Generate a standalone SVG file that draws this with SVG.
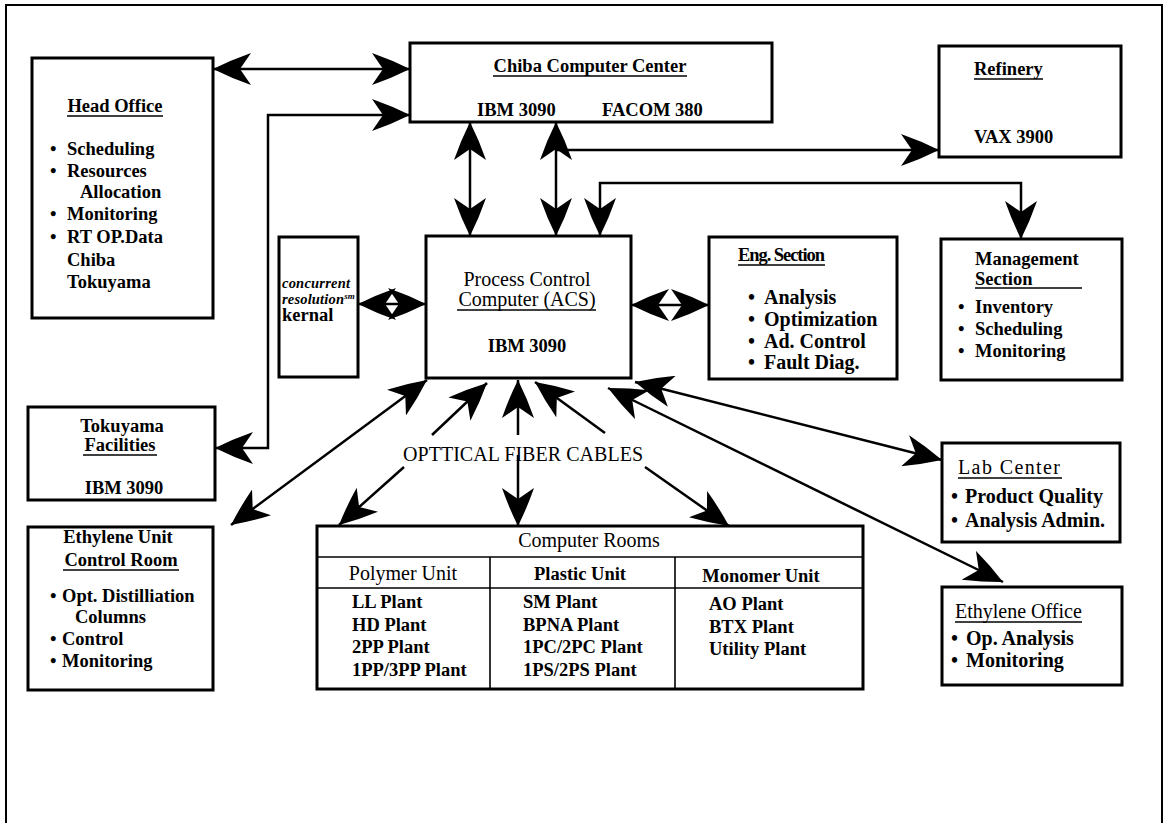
<svg xmlns="http://www.w3.org/2000/svg" width="1167" height="823" viewBox="0 0 1167 823">
<style>
.box{fill:#fff;stroke:#000;stroke-width:3}
.ln{fill:none;stroke:#000;stroke-width:2.5}
.t{font-family:"Liberation Serif","Times New Roman",serif;font-weight:bold;font-size:18.5px;fill:#000}
.r{font-weight:normal;font-size:20px}
.b20{font-size:20px}
.c{text-anchor:middle}
.ul{stroke:#000;stroke-width:1.6}
.it{font-size:14.5px;font-style:italic}
</style>
<defs>
<marker id="ah" viewBox="0 0 38 32" refX="38" refY="16" markerWidth="38" markerHeight="32" markerUnits="userSpaceOnUse" orient="auto-start-reverse">
<path d="M38,16 Q20,7 0,0 L11,16 L0,32 Q20,25 38,16 Z" fill="#000"/>
</marker>
</defs>
<rect width="1167" height="823" fill="#fff"/>
<path d="M6,823 V5 H1162 V823" fill="none" stroke="#000" stroke-width="2"/>

<g id="connectors">
<path class="ln" d="M213,69 H410" marker-start="url(#ah)" marker-end="url(#ah)"/>
<path class="ln" d="M215,448 H268 V115 H410" marker-start="url(#ah)" marker-end="url(#ah)"/>
<path class="ln" d="M470,122 V236" marker-start="url(#ah)" marker-end="url(#ah)"/>
<path class="ln" d="M556,122 V236" marker-start="url(#ah)" marker-end="url(#ah)"/>
<path class="ln" d="M556,150 H939" marker-end="url(#ah)"/>
<path class="ln" d="M600,236 V183 H1021 V239" marker-start="url(#ah)" marker-end="url(#ah)"/>
<path class="ln" d="M358,304 H426" marker-start="url(#ah)" marker-end="url(#ah)"/>
<path class="ln" d="M631,305 H709" marker-start="url(#ah)" marker-end="url(#ah)"/>
<path class="ln" d="M427,380 L231,525" marker-start="url(#ah)" marker-end="url(#ah)"/>
<path class="ln" d="M432,435 L487,383" marker-end="url(#ah)"/>
<path class="ln" d="M404,467 L339,525" marker-end="url(#ah)"/>
<path class="ln" d="M518,435 V380" marker-end="url(#ah)"/>
<path class="ln" d="M518,455 V526" marker-end="url(#ah)"/>
<path class="ln" d="M605,433 L535,382" marker-end="url(#ah)"/>
<path class="ln" d="M645,467 L729,526" marker-end="url(#ah)"/>
<path class="ln" d="M635,382 L942,460" marker-start="url(#ah)" marker-end="url(#ah)"/>
<path class="ln" d="M608,388 L1003,582" marker-start="url(#ah)" marker-end="url(#ah)"/>
</g>

<g id="head-office">
<rect class="box" x="32" y="58" width="181" height="260"/>
<text class="t c" x="115" y="112">Head Office</text>
<line class="ul" x1="67" y1="116" x2="163" y2="116"/>
<text class="t" y="155"><tspan x="50">•</tspan><tspan x="67">Scheduling</tspan></text>
<text class="t" y="177"><tspan x="50">•</tspan><tspan x="67">Resources</tspan></text>
<text class="t" x="80" y="198">Allocation</text>
<text class="t" y="220"><tspan x="50">•</tspan><tspan x="67">Monitoring</tspan></text>
<text class="t" y="243"><tspan x="50">•</tspan><tspan x="67">RT OP.Data</tspan></text>
<text class="t" x="67" y="266">Chiba</text>
<text class="t" x="67" y="288">Tokuyama</text>
</g>

<g id="chiba">
<rect class="box" x="410" y="43" width="362" height="79"/>
<text class="t c" x="590" y="72">Chiba Computer Center</text>
<line class="ul" x1="493" y1="76" x2="687" y2="76"/>
<text class="t" x="477" y="116">IBM 3090</text>
<text class="t" x="602" y="116">FACOM 380</text>
</g>

<g id="refinery">
<rect class="box" x="939" y="46" width="182" height="111"/>
<text class="t" x="974" y="75">Refinery</text>
<line class="ul" x1="974" y1="79" x2="1043" y2="79"/>
<text class="t" x="974" y="143">VAX 3900</text>
</g>

<g id="kernel">
<rect class="box" x="279" y="237" width="79" height="140"/>
<text class="t it" x="282" y="288" textLength="68">concurrent</text>
<text class="t it" x="282" y="304"><tspan textLength="62">resolution</tspan><tspan font-size="9" dy="-5">sm</tspan></text>
<text class="t" x="282" y="321" font-size="14">kernal</text>
</g>

<g id="pcc">
<rect class="box" x="426" y="236" width="205" height="142"/>
<text class="t r c" x="527" y="286">Process Control</text>
<text class="t r c" x="527" y="306">Computer (ACS)</text>
<line class="ul" x1="457" y1="310" x2="596" y2="310"/>
<text class="t c" x="527" y="352">IBM 3090</text>
</g>

<g id="eng">
<rect class="box" x="709" y="237" width="188" height="142"/>
<text class="t" x="738" y="261" font-size="17" textLength="87">Eng. Section</text>
<line class="ul" x1="738" y1="265" x2="825" y2="265"/>
<text class="t b20" y="304"><tspan x="748">•</tspan><tspan x="764">Analysis</tspan></text>
<text class="t b20" y="326"><tspan x="748">•</tspan><tspan x="764">Optimization</tspan></text>
<text class="t b20" y="348"><tspan x="748">•</tspan><tspan x="764">Ad. Control</tspan></text>
<text class="t b20" y="369"><tspan x="748">•</tspan><tspan x="764">Fault Diag.</tspan></text>
</g>

<g id="management">
<rect class="box" x="941" y="239" width="181" height="141"/>
<text class="t" x="975" y="265">Management</text>
<text class="t" x="975" y="285">Section</text>
<line class="ul" x1="975" y1="288" x2="1082" y2="288"/>
<text class="t" y="313"><tspan x="958">•</tspan><tspan x="975">Inventory</tspan></text>
<text class="t" y="335"><tspan x="958">•</tspan><tspan x="975">Scheduling</tspan></text>
<text class="t" y="357"><tspan x="958">•</tspan><tspan x="975">Monitoring</tspan></text>
</g>

<g id="tokuyama">
<rect class="box" x="28" y="407" width="187" height="93"/>
<text class="t c" x="122" y="432">Tokuyama</text>
<text class="t c" x="120" y="451">Facilities</text>
<line class="ul" x1="83" y1="455" x2="157" y2="455"/>
<text class="t c" x="124" y="494">IBM 3090</text>
</g>

<g id="ethylene-unit">
<rect class="box" x="28" y="527" width="185" height="163"/>
<text class="t c" x="118" y="543" font-size="19">Ethylene Unit</text>
<text class="t c" x="121" y="566" font-size="19">Control Room</text>
<line class="ul" x1="63" y1="570" x2="179" y2="570"/>
<text class="t" y="602" font-size="19"><tspan x="50">•</tspan><tspan x="62">Opt. Distilliation</tspan></text>
<text class="t" x="75" y="623" font-size="19">Columns</text>
<text class="t" y="645" font-size="19"><tspan x="50">•</tspan><tspan x="62">Control</tspan></text>
<text class="t" y="667" font-size="19"><tspan x="50">•</tspan><tspan x="62">Monitoring</tspan></text>
</g>

<text class="t r" x="403" y="461" textLength="240">OPTTICAL FIBER CABLES</text>

<g id="computer-rooms">
<rect class="box" x="317" y="526" width="546" height="163"/>
<line class="ul" x1="317" y1="557" x2="863" y2="557" stroke-width="2.5"/>
<line class="ul" x1="317" y1="588" x2="863" y2="588" stroke-width="2.5"/>
<line class="ul" x1="490" y1="557" x2="490" y2="689" stroke-width="2.5"/>
<line class="ul" x1="675" y1="557" x2="675" y2="689" stroke-width="2.5"/>
<text class="t r c" x="589" y="547">Computer Rooms</text>
<text class="t r c" x="403" y="580">Polymer Unit</text>
<text class="t c" x="580" y="580" font-size="19">Plastic Unit</text>
<text class="t c" x="761" y="582" font-size="19">Monomer Unit</text>
<text class="t" x="352" y="608">LL Plant</text>
<text class="t" x="352" y="631">HD Plant</text>
<text class="t" x="352" y="653">2PP Plant</text>
<text class="t" x="352" y="676">1PP/3PP Plant</text>
<text class="t" x="523" y="608">SM Plant</text>
<text class="t" x="523" y="631">BPNA Plant</text>
<text class="t" x="523" y="653">1PC/2PC Plant</text>
<text class="t" x="523" y="676">1PS/2PS Plant</text>
<text class="t" x="709" y="610">AO Plant</text>
<text class="t" x="709" y="633">BTX Plant</text>
<text class="t" x="709" y="655">Utility Plant</text>
</g>

<g id="lab-center">
<rect class="box" x="942" y="443" width="178" height="99"/>
<text class="t r" x="958" y="474" textLength="102">Lab Center</text>
<line class="ul" x1="958" y1="478" x2="1062" y2="478"/>
<text class="t b20" y="503"><tspan x="951">•</tspan><tspan x="965">Product Quality</tspan></text>
<text class="t b20" y="527"><tspan x="951">•</tspan><tspan x="965">Analysis Admin.</tspan></text>
</g>

<g id="ethylene-office">
<rect class="box" x="942" y="587" width="180" height="98"/>
<text class="t r" x="955" y="618">Ethylene Office</text>
<line class="ul" x1="955" y1="622" x2="1082" y2="622"/>
<text class="t b20" y="645"><tspan x="951">•</tspan><tspan x="966">Op. Analysis</tspan></text>
<text class="t b20" y="667"><tspan x="951">•</tspan><tspan x="966">Monitoring</tspan></text>
</g>
</svg>
